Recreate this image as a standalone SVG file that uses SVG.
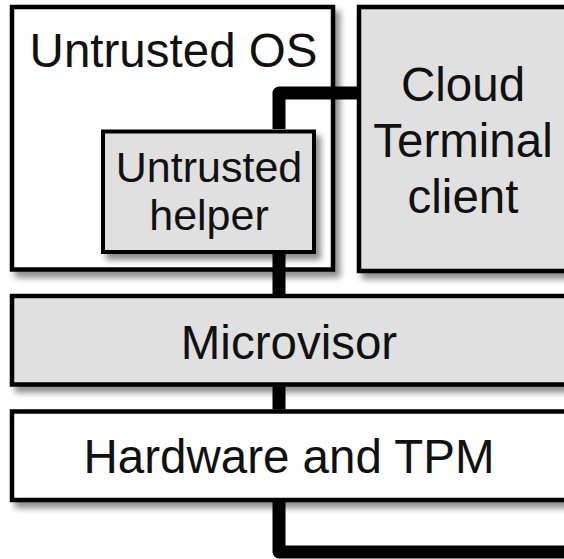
<svg xmlns="http://www.w3.org/2000/svg" width="564" height="559" viewBox="0 0 564 559">
  <defs>
    <filter id="shadow" x="-10%" y="-10%" width="130%" height="130%">
      <feGaussianBlur in="SourceAlpha" stdDeviation="3"/>
      <feOffset dx="5" dy="6" result="blur"/>
      <feComponentTransfer>
        <feFuncA type="linear" slope="0.45"/>
      </feComponentTransfer>
      <feMerge>
        <feMergeNode/>
        <feMergeNode in="SourceGraphic"/>
      </feMerge>
    </filter>
  </defs>
  <style>
    .box { stroke: #000; stroke-width: 4.5; filter: url(#shadow); }
    .white { fill: #ffffff; }
    .grey { fill: #e0e0e0; }
    .label { font-family: "Liberation Sans", Arial, sans-serif; font-size: 47.5px; fill: #111; text-anchor: middle; }
    .small { font-size: 43px; }
    .wire { fill: none; stroke: #000; stroke-width: 13; stroke-linejoin: round; }
  </style>
  <rect width="564" height="559" fill="#ffffff"/>

  <g id="untrusted-os">
    <rect class="box white" x="12" y="7" width="321" height="262.5"/>
    <text class="label" x="173.5" y="67">Untrusted OS</text>
  </g>

  <g id="cloud-terminal-client">
    <rect class="box grey" x="359" y="7" width="210" height="264"/>
    <text class="label" x="463" y="101">Cloud</text>
    <text class="label" x="463" y="157">Terminal</text>
    <text class="label" x="463" y="213">client</text>
  </g>

  <g id="untrusted-helper">
    <rect class="box grey" x="103" y="131.5" width="211" height="120.5" style="stroke-width:4"/>
    <text class="label small" x="209" y="182">Untrusted</text>
    <text class="label small" x="209" y="230">helper</text>
  </g>

  <g id="microvisor">
    <rect class="box grey" x="12" y="296" width="555" height="88.5"/>
    <text class="label" x="289" y="359">Microvisor</text>
  </g>

  <g id="hardware-tpm">
    <rect class="box white" x="12" y="411.5" width="555" height="88.5"/>
    <text class="label" x="289" y="473">Hardware and TPM</text>
  </g>

  <g id="connectors">
    <path class="wire" d="M357 93 H279 V129"/>
    <path class="wire" d="M279 254 V294"/>
    <path class="wire" d="M279 386.5 V409.5"/>
    <path class="wire" d="M279 502 V552 H570"/>
  </g>
</svg>
